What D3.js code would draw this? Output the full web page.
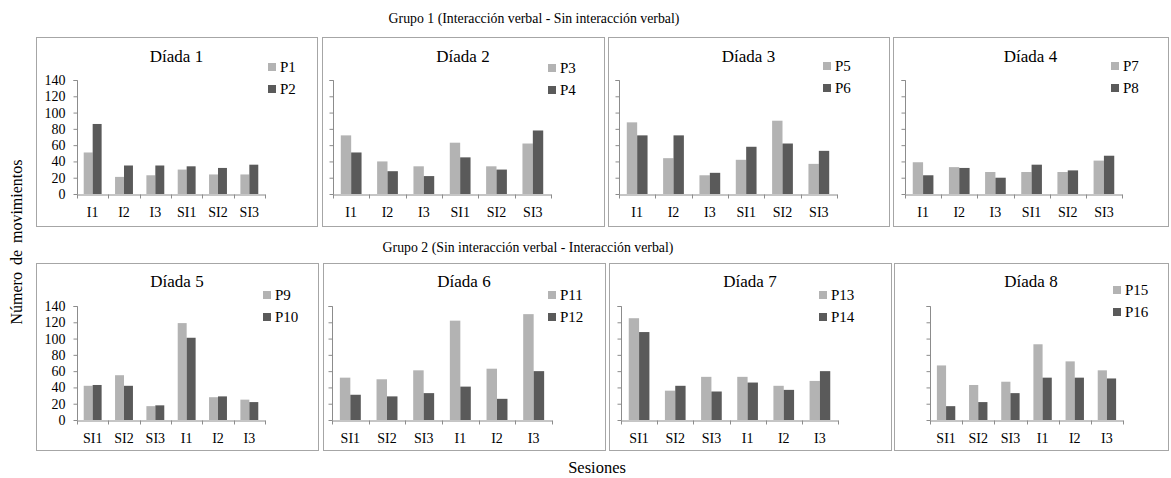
<!DOCTYPE html>
<html>
<head>
<meta charset="utf-8">
<script src="https://cdn.jsdelivr.net/npm/d3@7"></script>
<style>
  body { margin: 0; background: #fff; }
</style>
</head>
<body>
<svg id="chart"></svg>
<script>
// sesiones (orden distinto en cada grupo)
var sesionesG1 = ["I1", "I2", "I3", "SI1", "SI2", "SI3"];
var sesionesG2 = ["SI1", "SI2", "SI3", "I1", "I2", "I3"];

var diadas = ["Díada 1", "Díada 2", "Díada 3", "Díada 4",
              "Díada 5", "Díada 6", "Díada 7", "Díada 8"];
var participantes = [["P1", "P2"], ["P3", "P4"], ["P5", "P6"], ["P7", "P8"],
                     ["P9", "P10"], ["P11", "P12"], ["P13", "P14"], ["P15", "P16"]];

// primer participante de cada díada (barra clara)
var valoresA = [
  [51, 21, 23, 30, 24, 24],
  [72, 40, 34, 63, 34, 62],
  [88, 44, 23, 42, 90, 37],
  [39, 33, 27, 27, 27, 41],
  [42, 55, 17, 119, 28, 25],
  [52, 50, 61, 122, 63, 130],
  [125, 36, 53, 53, 42, 48],
  [67, 43, 47, 93, 72, 61]
];
// segundo participante (barra oscura)
var valoresB = [
  [86, 35, 35, 34, 32, 36],
  [51, 28, 22, 45, 30, 78],
  [72, 72, 26, 58, 62, 53],
  [23, 32, 20, 36, 29, 47],
  [43, 42, 18, 101, 29, 22],
  [31, 29, 33, 41, 26, 60],
  [108, 42, 35, 46, 37, 60],
  [17, 22, 33, 52, 52, 51]
];

var yTicks = [0, 20, 40, 60, 80, 100, 120, 140];
var grupos = ["Grupo 1 (Interacción verbal - Sin interacción verbal)",
              "Grupo 2 (Sin interacción verbal - Interacción verbal)"];

var width = 1171, height = 478;
var colorA = "#b3b3b3", colorB = "#5a5a5a";
var serif = "'Liberation Serif', 'Times New Roman', 'DejaVu Serif', serif";

var svg = d3.select("#chart").attr("width", width).attr("height", height)
  .attr("font-family", serif);

// marcos de cada panel
var frames = [
  {x: 36, y: 37, w: 281, h: 189}, {x: 322, y: 37, w: 282, h: 189},
  {x: 608, y: 37, w: 281, h: 189}, {x: 893, y: 37, w: 275, h: 189},
  {x: 36, y: 263, w: 282, h: 187}, {x: 323, y: 263, w: 282, h: 187},
  {x: 609, y: 263, w: 282, h: 187}, {x: 894, y: 263, w: 274, h: 187}
];
var axisLeftOff = [41, 11, 11, 12, 41, 9, 12, 36];
var legendX = [232, 226, 215, 218, 227, 225, 210, 219];
var legendY = [30, 31, 29, 29, 32, 32, 32, 27];

frames.forEach(function(f, i){
  var g = svg.append("g");
  var sesiones = i < 4 ? sesionesG1 : sesionesG2;

  g.append("rect")
    .attr("x", f.x + 0.5).attr("y", f.y + 0.5)
    .attr("width", f.w).attr("height", f.h)
    .attr("fill", "#fff").attr("stroke", "#a6a6a6");

  var x0 = f.x + axisLeftOff[i], x1 = f.x + 229;
  var zero = f.y + 157;

  var x = d3.scaleBand().domain(sesiones).range([x0, x1]);
  var sub = d3.scaleBand().domain([0, 1]).range([0, x.bandwidth()]).paddingOuter(0.75);
  var y = d3.scaleLinear().domain([0, 140]).range([zero, zero - 114]);

  // eje y
  var yAxis = d3.axisLeft(y).tickValues(yTicks).tickSize(4).tickPadding(8);
  if (i !== 0 && i !== 4) yAxis.tickFormat("");
  var ya = g.append("g").attr("transform", "translate(" + (x0 + 0.5) + ",0)").call(yAxis)
    .attr("font-family", serif).attr("font-size", 14);
  ya.select(".domain").attr("stroke", "#8c8c8c").attr("d", "M-4," + (y(140)+0.5) + "H0V" + (zero+0.5));
  ya.selectAll(".tick line").attr("stroke", "#8c8c8c");
  ya.selectAll(".tick text").attr("fill", "#000");

  // barras
  var data = sesiones.map(function(s, j){ return {s: s, a: valoresA[i][j], b: valoresB[i][j]}; });
  g.selectAll(".barA").data(data).enter().append("rect")
    .attr("x", function(d){ return x(d.s) + sub(0); })
    .attr("width", sub.bandwidth())
    .attr("y", function(d){ return y(d.a); })
    .attr("height", function(d){ return zero - y(d.a); })
    .attr("fill", colorA);
  g.selectAll(".barB").data(data).enter().append("rect")
    .attr("x", function(d){ return x(d.s) + sub(1); })
    .attr("width", sub.bandwidth())
    .attr("y", function(d){ return y(d.b); })
    .attr("height", function(d){ return zero - y(d.b); })
    .attr("fill", colorB);

  // eje x
  var xa = g.append("g").attr("transform", "translate(0," + (zero + 0.5) + ")")
    .call(d3.axisBottom(x).tickSize(0).tickPadding(13))
    .attr("font-family", serif).attr("font-size", 14);
  xa.select(".domain").attr("stroke", "#8c8c8c");
  xa.selectAll(".tick text").attr("fill", "#000");
  xa.selectAll(".sep").data(d3.range(sesiones.length + 1)).enter().append("line")
    .attr("x1", function(k){ return Math.round(x0 + k * x.step()) + 0.5; })
    .attr("x2", function(k){ return Math.round(x0 + k * x.step()) + 0.5; })
    .attr("y1", 0).attr("y2", 4).attr("stroke", "#8c8c8c");

  // título
  g.append("text")
    .attr("x", f.x + f.w / 2).attr("y", f.y + (i < 4 ? 25 : 24))
    .attr("text-anchor", "middle").attr("font-size", 17)
    .text(diadas[i]);

  // leyenda
  [colorA, colorB].forEach(function(c, k){
    var ly = f.y + legendY[i] + k * 22;
    g.append("rect").attr("x", f.x + legendX[i]).attr("y", ly - 4)
      .attr("width", 8).attr("height", 8).attr("fill", c);
    g.append("text").attr("x", f.x + legendX[i] + 12).attr("y", ly + 5)
      .attr("font-size", 15).text(participantes[i][k]);
  });
});

// títulos de grupo
svg.append("text").attr("x", 534).attr("y", 23).attr("text-anchor", "middle")
  .attr("font-size", 13.8).text(grupos[0]);
svg.append("text").attr("x", 528).attr("y", 252).attr("text-anchor", "middle")
  .attr("font-size", 13.8).text(grupos[1]);

svg.append("text").attr("x", 597).attr("y", 473).attr("text-anchor", "middle")
  .attr("font-size", 16.5).text("Sesiones");

svg.append("text").attr("transform", "translate(22,242) rotate(-90)")
  .attr("text-anchor", "middle").attr("font-size", 16)
  .style("word-spacing", "3px")
  .text("Número de movimientos");
</script>
</body>
</html>
